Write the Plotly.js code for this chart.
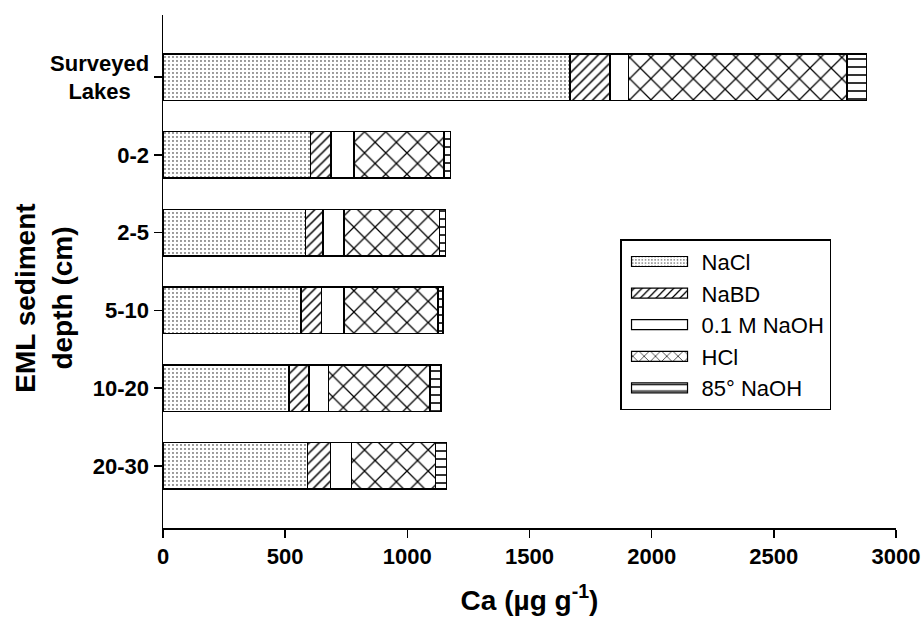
<!DOCTYPE html>
<html>
<head>
<meta charset="utf-8">
<script src="https://cdn.plot.ly/plotly-3.0.1.min.js"></script>
<style>
  html, body { margin: 0; padding: 0; background: #fff; }
  #chart { width: 923px; height: 619px; }
</style>
</head>
<body>
<div id="chart"></div>
<script>
// Sediment sample groups (top to bottom)
const groups = ['Surveyed<br>Lakes\u00a0\u00a0\u00a0', '0-2', '2-5', '5-10', '10-20', '20-30'];

// Ca extracted by each sequential step, µg g-1
const nacl     = [1665, 603, 583, 564, 516, 591];
const nabd     = [165,   85,  71,  84,  82,  94];
const naoh01   = [75,    93,  87,  93,  79,  86];
const hcl      = [895,  369, 390, 385, 416, 345];
const naoh85   = [80,    26,  25,  21,  45,  44];

const xTicks = [0, 500, 1000, 1500, 2000, 2500, 3000];

const font = 'Arial, "Liberation Sans", sans-serif';

function series(name, values, shape, size, solidity) {
  return {
    type: 'bar',
    orientation: 'h',
    name: name,
    legendgroup: name,
    y: groups,
    x: values,
    width: 0.6,
    marker: {
      color: '#ffffff',
      line: { color: '#000000', width: 1.6 },
      pattern: shape ? { shape: shape, fgcolor: '#000000', fgopacity: 1, bgcolor: '#ffffff',
                         size: size, solidity: solidity, fillmode: 'replace' } : undefined
    },
    hoverinfo: 'x+name'
  };
}

const data = [
  series('NaCl', nacl, '.', 4, 0.1),
  series('NaBD', nabd, '/', 7, 0.22),
  series('0.1 M NaOH', naoh01, '', 0, 0),
  series('HCl', hcl, 'x', 15, 0.16),
  series('85\u00b0 NaOH', naoh85, '-', 8, 0.2)
];

const layout = {
  width: 923,
  height: 619,
  margin: { l: 163, r: 27, t: 15, b: 91 },
  paper_bgcolor: '#ffffff',
  plot_bgcolor: '#ffffff',
  barmode: 'stack',
  showlegend: true,
  font: { family: font, color: '#000000' },
  xaxis: {
    range: [0, 3000],
    tickvals: xTicks,
    ticktext: xTicks.map(String),
    ticks: 'outside',
    ticklen: 8,
    tickwidth: 1.5,
    tickcolor: '#000',
    showline: true,
    linecolor: '#000',
    linewidth: 1.5,
    showgrid: false,
    zeroline: false,
    tickfont: { family: font, size: 22, color: '#000', weight: 'bold' },
    title: { text: 'Ca (\u00b5g g<sup>-1</sup>)', font: { family: font, size: 28, color: '#000', weight: 'bold' }, standoff: 22 }
  },
  yaxis: {
    type: 'category',
    categoryorder: 'array',
    categoryarray: groups,
    range: [5.8, -0.8],
    ticks: 'outside',
    ticklen: 8,
    tickwidth: 1.5,
    tickcolor: '#000',
    showline: true,
    linecolor: '#000',
    linewidth: 1.5,
    showgrid: false,
    zeroline: false,
    tickfont: { family: font, size: 22, color: '#000', weight: 'bold' }
  },
  annotations: [{
    text: 'EML sediment<br>depth (cm)',
    textangle: -90,
    xref: 'paper', yref: 'paper',
    x: -0.163, y: 0.448,
    xanchor: 'center', yanchor: 'middle',
    showarrow: false,
    font: { family: font, size: 28, color: '#000', weight: 'bold' }
  }],
  legend: {
    x: 0.6235, y: 0.563,
    xanchor: 'left', yanchor: 'top',
    bgcolor: '#ffffff',
    bordercolor: '#000000',
    borderwidth: 1.5,
    font: { family: font, size: 22, color: '#000' },
    traceorder: 'grouped',
    itemwidth: 70,
    tracegroupgap: 0
  }
};

// Widen the legend keys into long rectangular swatches ending just before each label
function widenLegendKeys(gd) {
  gd.querySelectorAll('.legend .traces').forEach(function (tr) {
    const text = tr.querySelector('text.legendtext');
    const path = tr.querySelector('.legendpoints path');
    if (!text || !path) return;
    path.removeAttribute('transform');
    const pm = path.getCTM();
    const tm = text.getCTM();
    const textX = tm.e + parseFloat(text.getAttribute('x') || 0);
    const right = textX - 14 - pm.e;
    const left = right - 56;
    const cy = tm.f - pm.f;
    path.setAttribute('d', 'M' + right + ',' + (cy + 5) + 'H' + left + 'V' + (cy - 5) + 'H' + right + 'Z');
    path.style.strokeWidth = '1.2px';
  });
}

Plotly.newPlot('chart', data, layout, { displayModeBar: false, staticPlot: true })
  .then(widenLegendKeys);
</script>
</body>
</html>
